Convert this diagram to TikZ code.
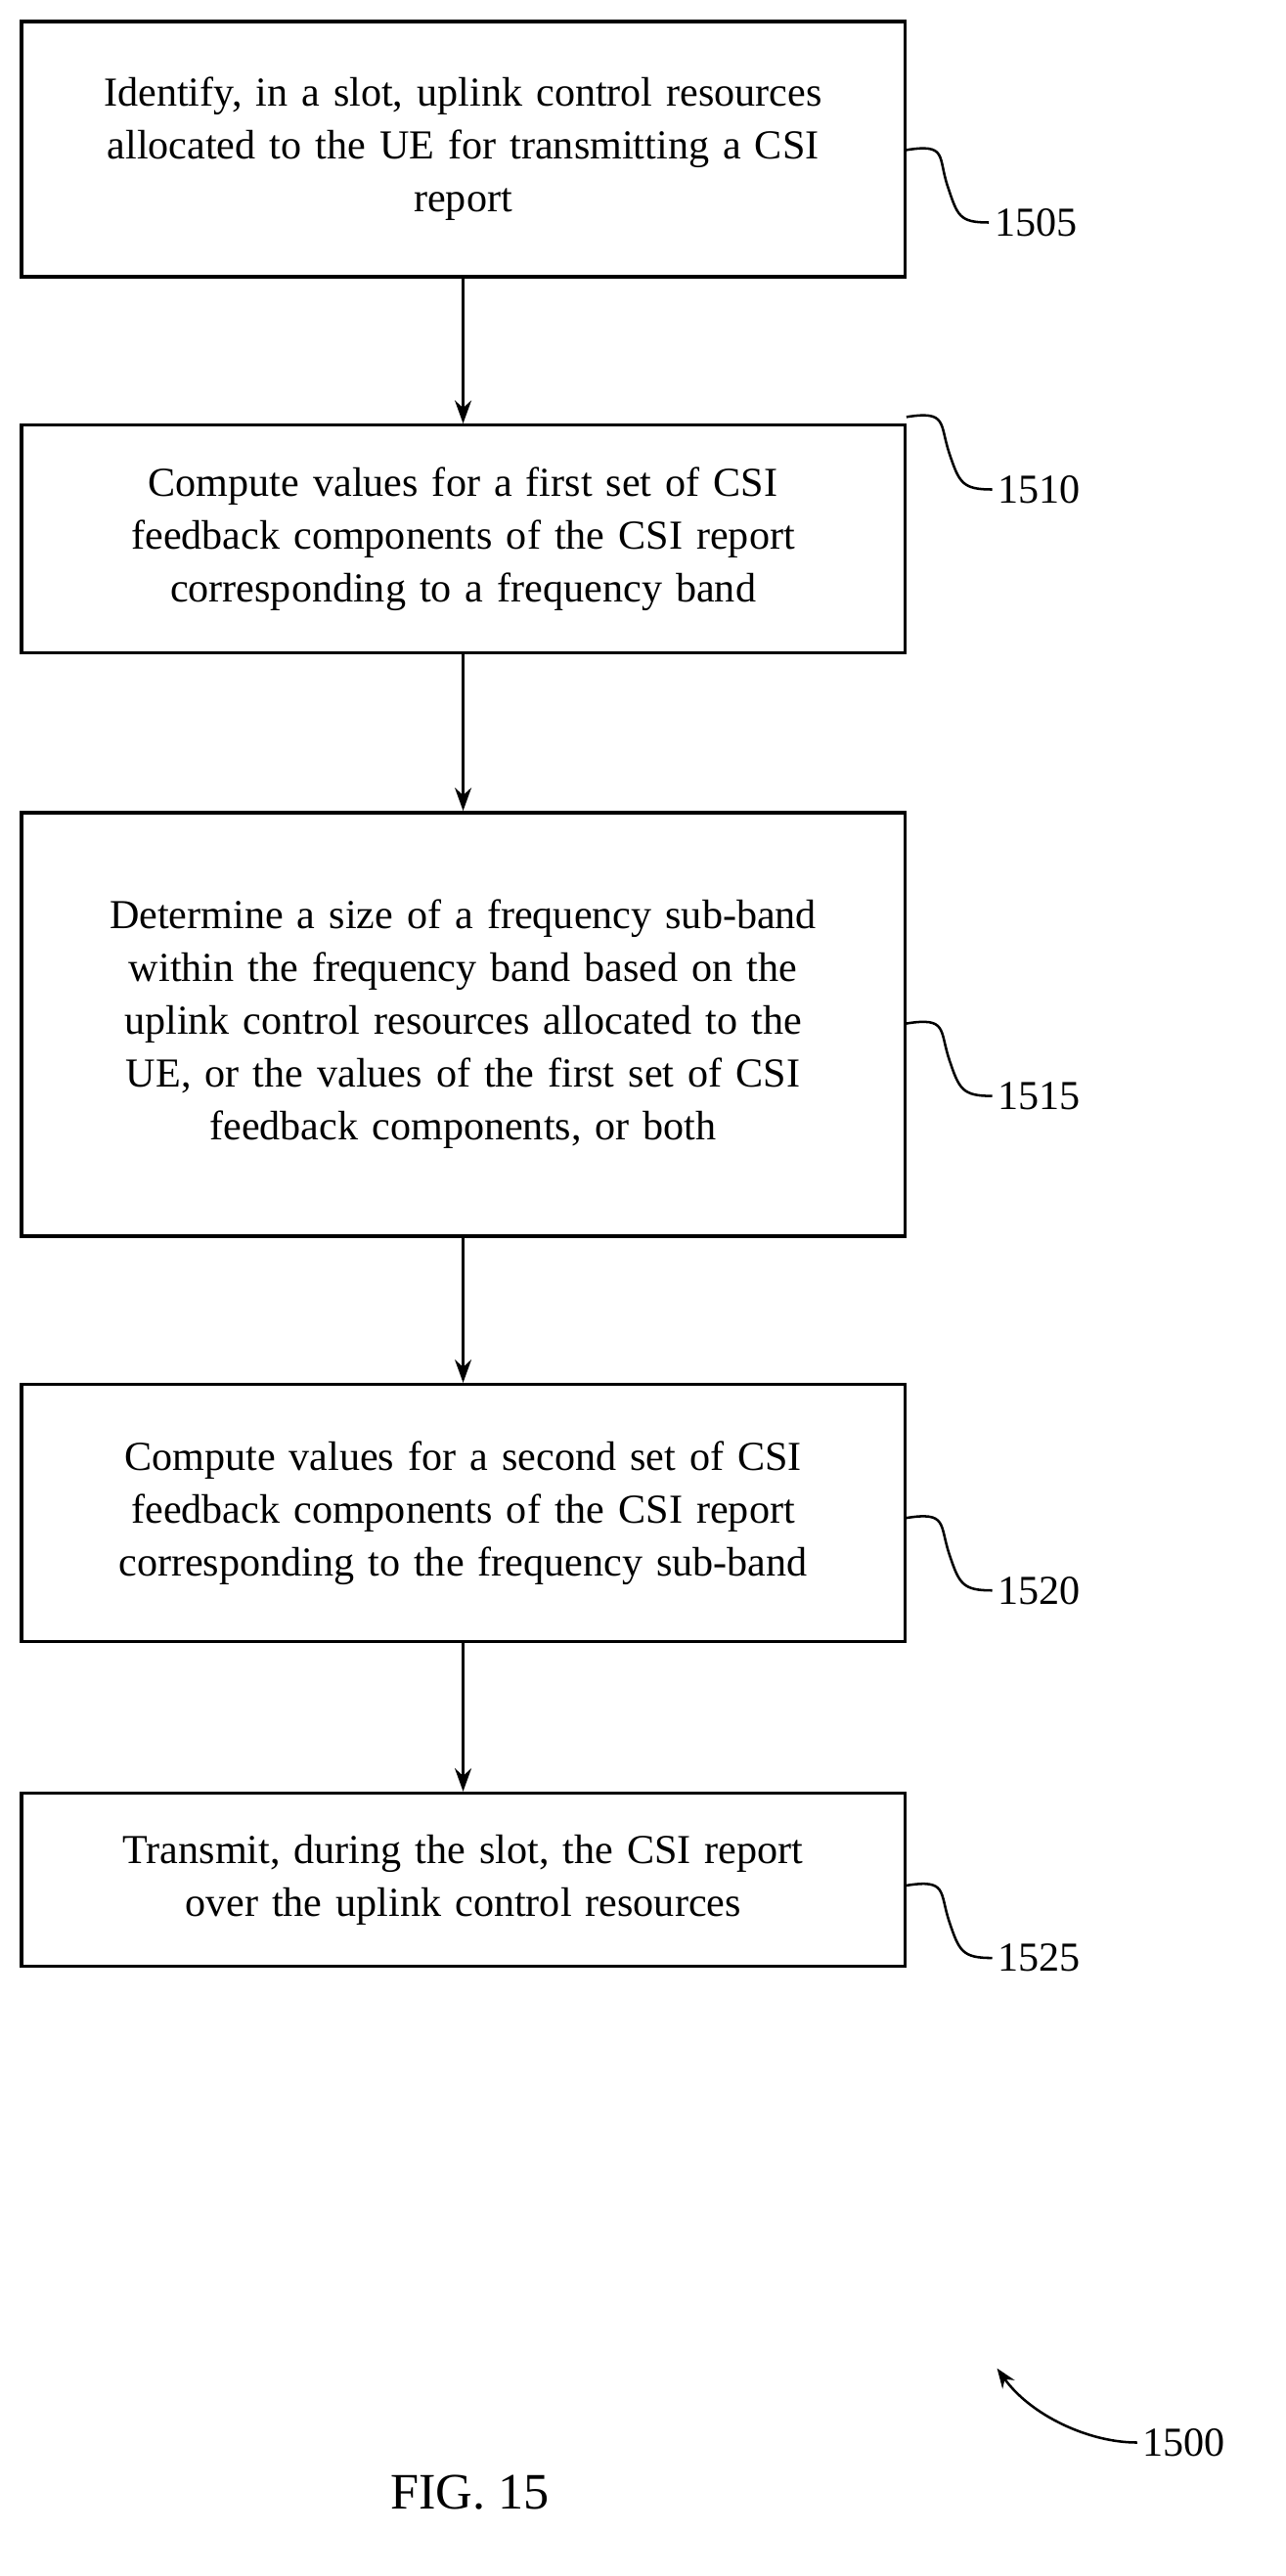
\documentclass[tikz,border=0pt]{standalone}
\usepackage{fontspec}
\setmainfont{Liberation Serif}
\usetikzlibrary{arrows.meta,calc}
\begin{document}
\begin{tikzpicture}[x=1pt,y=-1pt,
  box/.style={draw,line width=2pt,align=center,text width=520pt,inner sep=8pt,font=\fontsize{25}{32}\selectfont},
  lab/.style={font=\fontsize{25}{28}\selectfont,anchor=west},
  arr/.style={line width=2pt,-{Stealth[length=14pt,width=10pt]}},
  sq/.style={line width=1.5pt}]
\useasboundingbox (0,0) rectangle (780,1563);
\node[box,minimum height=155pt] (b1) at (281,90.5) {Identify, in a slot, uplink control resources\\ allocated to the UE for transmitting a CSI\\ report};
\node[box,minimum height=138pt] (b2) at (281,327) {Compute values for a first set of CSI\\ feedback components of the CSI report\\ corresponding to a frequency band};
\node[box,minimum height=257pt] (b3) at (281,621.5) {Determine a size of a frequency sub-band\\ within the frequency band based on the\\ uplink control resources allocated to the\\ UE, or the values of the first set of CSI\\ feedback components, or both};
\node[box,minimum height=156pt] (b4) at (281,918) {Compute values for a second set of CSI\\ feedback components of the CSI report\\ corresponding to the frequency sub-band};
\node[box,minimum height=105pt] (b5) at (281,1140.5) {Transmit, during the slot, the CSI report\\ over the uplink control resources};
\draw[arr] (b1) -- (b2);
\draw[arr] (b2) -- (b3);
\draw[arr] (b3) -- (b4);
\draw[arr] (b4) -- (b5);
\node[lab] (l1) at (600,135) {1505};
\node[lab] (l2) at (602,297) {1510};
\node[lab] (l3) at (602,665) {1515};
\node[lab] (l4) at (602,965) {1520};
\node[lab] (l5) at (602,1188) {1525};
\foreach \b/\l in {b1/l1,b2/l2,b3/l3,b4/l4,b5/l5}{
  \coordinate (s) at ([yshift=44pt]\l.west -| \b.east);
  \draw[sq] (s) .. controls +(25,-4) and +(-6,-18) .. ($(s)!0.5!(\l.west)$) .. controls +(6,18) and +(-18,0) .. (\l.west);
}
\node[lab] (l0) at (690,1482) {1500};
\coordinate (a0) at (605,1437);
\draw[line width=1.5pt,-{Stealth[length=12pt,width=9pt]}] (l0.west) .. controls (660,1482) and (625,1465) .. (a0);
\node[font=\fontsize{31}{34}\selectfont] (fig) at (285,1512) {FIG. 15};
\end{tikzpicture}
\end{document}
